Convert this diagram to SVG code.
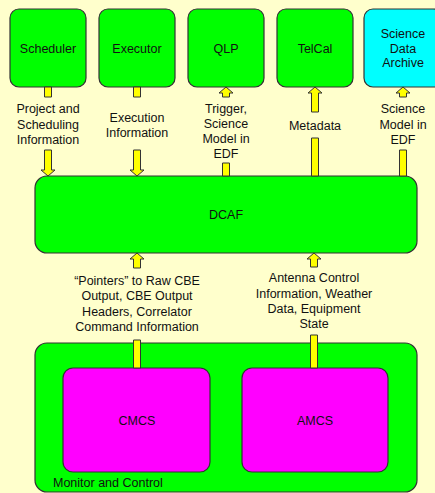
<svg xmlns="http://www.w3.org/2000/svg" width="435" height="493" viewBox="0 0 435 493">
  <style>
    .box { stroke: #333333; stroke-width: 1.2; }
    .green { fill: #00FF00; }
    .cyan { fill: #00FFFF; }
    .magenta { fill: #FF00FF; }
    .arrow { fill: #FFFF00; stroke: #333333; stroke-width: 1; stroke-linejoin: miter; }
    text { font-family: "Liberation Sans", Arial, sans-serif; font-size: 12.5px; fill: #111111; }
    .c { text-anchor: middle; }
  </style>

  <!-- page background -->
  <rect x="0" y="0" width="435" height="493" fill="#FFFFCC"/>

  <!-- top row of subsystems -->
  <g id="scheduler">
    <rect class="box green" x="10" y="9" width="76" height="78" rx="9"/>
    <text class="c" x="48" y="52.5">Scheduler</text>
  </g>
  <g id="executor">
    <rect class="box green" x="99" y="9" width="76" height="78" rx="9"/>
    <text class="c" x="137" y="52.5">Executor</text>
  </g>
  <g id="qlp">
    <rect class="box green" x="188" y="9" width="76" height="78" rx="9"/>
    <text class="c" x="226" y="52.5">QLP</text>
  </g>
  <g id="telcal">
    <rect class="box green" x="277" y="9" width="76" height="78" rx="9"/>
    <text class="c" x="315" y="52.5">TelCal</text>
  </g>
  <g id="archive">
    <rect class="box cyan" x="364" y="9" width="78" height="78" rx="9"/>
    <text class="c" x="403" y="37.5">Science</text>
    <text class="c" x="403" y="52.5">Data</text>
    <text class="c" x="403" y="67">Archive</text>
  </g>

  <!-- central data capture -->
  <g id="dcaf">
    <rect class="box green" x="35" y="176" width="382" height="77" rx="12"/>
    <text class="c" x="226" y="218.5">DCAF</text>
  </g>

  <!-- monitor and control container -->
  <g id="monitor-control">
    <rect class="box green" x="35" y="343" width="382" height="149" rx="12"/>
    <text x="53" y="487">Monitor and Control</text>
  </g>
  <g id="cmcs">
    <rect class="box magenta" x="63" y="368" width="147" height="104" rx="10"/>
    <text class="c" x="137" y="424.5">CMCS</text>
  </g>
  <g id="amcs">
    <rect class="box magenta" x="242" y="368" width="146" height="104" rx="10"/>
    <text class="c" x="315" y="424.5">AMCS</text>
  </g>

  <!-- block-arrow connectors (shaft interrupted by labels) -->
  <g id="connectors">
    <!-- Scheduler -> DCAF -->
    <polygon class="arrow" points="44.5,87 51.5,87 51.5,97 44.5,97"/>
    <polygon class="arrow" points="44.5,150 51.5,150 51.5,170 55,170 48,176 41,170 44.5,170"/>
    <!-- Executor -> DCAF -->
    <polygon class="arrow" points="133.5,87 140.5,87 140.5,97 133.5,97"/>
    <polygon class="arrow" points="133.5,150 140.5,150 140.5,170 144,170 137,176 130,170 133.5,170"/>
    <!-- DCAF -> QLP -->
    <polygon class="arrow" points="222.5,97 222.5,93 219,93 226,87 233,93 229.5,93 229.5,97"/>
    <polygon class="arrow" points="222.5,163 229.5,163 229.5,176 222.5,176"/>
    <!-- DCAF -> TelCal -->
    <polygon class="arrow" points="311.5,112 311.5,93 308,93 315,87 322,93 318.5,93 318.5,112"/>
    <polygon class="arrow" points="311.5,138 318.5,138 318.5,176 311.5,176"/>
    <!-- DCAF -> Science Data Archive -->
    <polygon class="arrow" points="399.5,97 399.5,93 396,93 403,87 410,93 406.5,93 406.5,97"/>
    <polygon class="arrow" points="399.5,150 406.5,150 406.5,176 399.5,176"/>
    <!-- CMCS -> DCAF -->
    <polygon class="arrow" points="133.5,268 133.5,259 130,259 137,253 144,259 140.5,259 140.5,268"/>
    <polygon class="arrow" points="133.5,340 140.5,340 140.5,368 133.5,368"/>
    <!-- AMCS -> DCAF -->
    <polygon class="arrow" points="310.5,267 310.5,259 307,259 314,253 321,259 317.5,259 317.5,267"/>
    <polygon class="arrow" points="310.5,335 317.5,335 317.5,368 310.5,368"/>
  </g>

  <!-- connector labels -->
  <g id="labels">
    <text class="c" x="48" y="113">Project and</text>
    <text class="c" x="48" y="128.5">Scheduling</text>
    <text class="c" x="48" y="144">Information</text>

    <text class="c" x="137" y="121.5">Execution</text>
    <text class="c" x="137" y="137">Information</text>

    <text class="c" x="226" y="112.5">Trigger,</text>
    <text class="c" x="226" y="127.5">Science</text>
    <text class="c" x="226" y="142.5">Model in</text>
    <text class="c" x="226" y="158">EDF</text>

    <text class="c" x="315" y="129.5">Metadata</text>

    <text class="c" x="403" y="112.5">Science</text>
    <text class="c" x="403" y="128.5">Model in</text>
    <text class="c" x="403" y="144">EDF</text>

    <text class="c" x="137" y="284.5">“Pointers” to Raw CBE</text>
    <text class="c" x="137" y="300">Output, CBE Output</text>
    <text class="c" x="137" y="315.5">Headers, Correlator</text>
    <text class="c" x="137" y="331">Command Information</text>

    <text class="c" x="314" y="282">Antenna Control</text>
    <text class="c" x="314" y="297.5">Information, Weather</text>
    <text class="c" x="314" y="312.5">Data, Equipment</text>
    <text class="c" x="314" y="328">State</text>
  </g>
</svg>
